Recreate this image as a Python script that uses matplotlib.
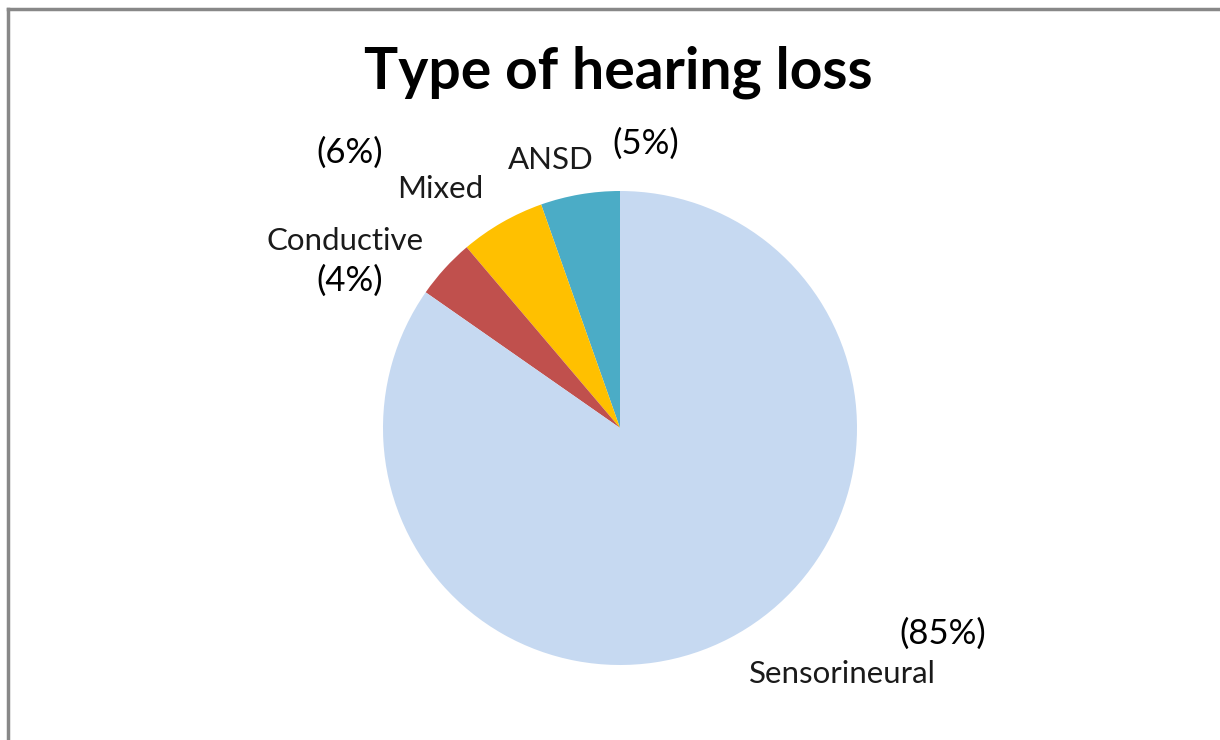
import matplotlib
matplotlib.use('Agg')
import matplotlib.pyplot as plt
from matplotlib.lines import Line2D

# Slices in drawing order (counterclockwise from 12 o'clock)
categories = ['ANSD', 'Mixed', 'Conductive', 'Sensorineural']
shares = [5.4, 5.8, 4.1, 84.7]
pct_labels = ['(5%)', '(6%)', '(4%)', '(85%)']
colors = ['#4BACC6', '#FFC000', '#C0504D', '#C6D9F1']

# label anchor points (pie radius = 1)
name_pos = [(-0.29, 1.13), (-0.76, 1.01), (-1.16, 0.79), (0.94, -1.04)]
pct_pos = [(0.11, 1.20), (-1.14, 1.16), (-1.14, 0.62), (1.36, -0.87)]


def plot_pie():
    fig = plt.figure(figsize=(12.2, 7.4), dpi=100)
    plt.rcParams['font.family'] = ['Lato', 'DejaVu Sans']

    cx, cy, r = 620, 428, 237
    ax = fig.add_axes([0, 0, 1, 1])
    ax.pie(shares, colors=colors, startangle=90, counterclock=True,
           radius=1, wedgeprops=dict(linewidth=0))
    ax.set_xlim(-cx / r, (1220 - cx) / r)
    ax.set_ylim(-(740 - cy) / r, cy / r)
    ax.set_aspect('auto')
    ax.axis('off')

    for name, (x, y) in zip(categories, name_pos):
        ax.text(x, y, name, fontsize=22.5, color='#1a1a1a', ha='center', va='center')
    for pct, (x, y) in zip(pct_labels, pct_pos):
        ax.text(x, y, pct, fontsize=25, color='black', ha='center', va='center')

    fig.text(0.507, 0.903, 'Type of hearing loss', fontsize=41, fontweight='bold',
             ha='center', va='center')

    # chart frame (top and left edges visible)
    fig.add_artist(Line2D([8 / 1220, 1], [1 - 9 / 740, 1 - 9 / 740],
                          transform=fig.transFigure, color='#888888', lw=2.5))
    fig.add_artist(Line2D([8 / 1220, 8 / 1220], [0, 1 - 9 / 740],
                          transform=fig.transFigure, color='#888888', lw=2.5))

    fig.savefig('out.png', dpi=100)


if __name__ == '__main__':
    plot_pie()
